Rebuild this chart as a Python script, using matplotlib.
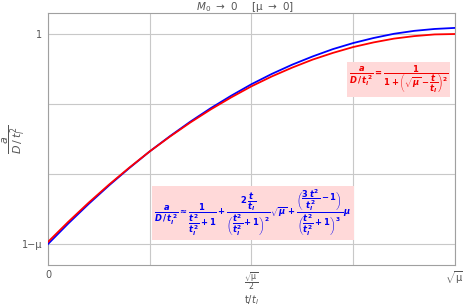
import matplotlib
matplotlib.use("Agg")
import matplotlib.pyplot as plt

plt.rcParams['mathtext.fontset'] = 'custom'
plt.rcParams['mathtext.rm'] = 'DejaVu Sans:bold'
plt.rcParams['mathtext.it'] = 'DejaVu Sans:bold:italic'
plt.rcParams['mathtext.bf'] = 'DejaVu Sans:bold'
plt.rcParams['mathtext.sf'] = 'DejaVu Sans'
plt.rcParams['mathtext.cal'] = 'DejaVu Sans:italic'

# x in units of sqrt(mu): 0 .. 1  ;  y normalised: (1-mu) -> 0, 1 -> 1
u = [0.0, 0.05, 0.1, 0.15, 0.2, 0.25, 0.3, 0.35, 0.4, 0.45, 0.5,
     0.55, 0.6, 0.65, 0.7, 0.75, 0.8, 0.85, 0.9, 0.95, 1.0]
exact = [0.010, 0.106, 0.197, 0.283, 0.364, 0.441, 0.512, 0.579, 0.641, 0.698, 0.751,
         0.798, 0.840, 0.878, 0.910, 0.938, 0.960, 0.978, 0.990, 0.998, 1.000]
approx = [0.000, 0.098, 0.191, 0.279, 0.362, 0.441, 0.514, 0.583, 0.647, 0.706, 0.761,
          0.810, 0.854, 0.893, 0.928, 0.957, 0.981, 1.001, 1.015, 1.024, 1.029]

xticks = [0, 0.5, 1]
xticklabels = ['0', r'$\mathsf{\frac{\sqrt{\mu}}{2}}$', r'$\mathsf{\sqrt{\mu}}$']
yticks = [0, 1]
yticklabels = ['1\u2212\u03bc', '1']

W, H = 463, 306
fig = plt.figure(figsize=(W/100, H/100), dpi=100)
ax = fig.add_axes([48/W, 1-265/H, (455-48)/W, (265-13)/H])

ax.plot(u, approx, color=(0, 0, 1), lw=1.3, zorder=3)
ax.plot(u, exact, color=(1, 0, 0), lw=1.3, zorder=4)

ax.set_xlim(0, 1)
ax.set_ylim(-0.1, 1.1)
ax.set_xticks(xticks)
ax.set_xticklabels(xticklabels)
ax.set_yticks(yticks)
ax.set_yticklabels(yticklabels)
ax.tick_params(length=0, labelsize=7, colors='#555555')
ax.tick_params(axis='x', pad=3.5)
ax.tick_params(axis='y', pad=4)
ax.get_xticklabels()[1].set_fontsize(8)
ax.set_xticks([0.25, 0.5, 0.75], minor=True)
ax.set_yticks([1/3, 2/3], minor=True)
ax.tick_params(which='minor', length=0)
ax.grid(True, which='both', color='#c8c8c8', lw=0.8)
for s in ax.spines.values():
    s.set_color('#a0a0a0')
    s.set_linewidth(0.8)

fig.text(245/W, 1-7/H, r'$\mathsf{\mathcal{M}_0\ \rightarrow\ 0\quad\ [\mu\ \rightarrow\ 0]}$',
         ha='center', va='center', fontsize=7.5, color='#555555')
fig.text(251/W, 1-300/H, r'$\mathsf{t/\mathcal{t}_\mathcal{l}}$', ha='center', va='center',
         fontsize=7, color='#555555')
fig.text(14/W, 1-139/H, r'$\mathsf{\dfrac{\mathcal{a}}{\mathcal{D}\,/\,\mathcal{t}_\mathcal{l}^{\,2}}}$',
         ha='center', va='center', fontsize=8, color='#555555', rotation=90)

pink = (1.0, 0.85, 0.85)
ax.text(0.861, 0.736,
        r'$\dfrac{a}{D\,/\,t_l^{\,2}} = \dfrac{1}{1+\left(\sqrt{\mu}-\dfrac{t}{t_l}\right)^2}$',
        transform=ax.transAxes, fontsize=6, color=(0.95, 0, 0), ha='center', va='center',
        bbox=dict(boxstyle='square,pad=0.25', fc=pink, ec='none'), zorder=5)

ax.text(0.504, 0.206,
        r'$\dfrac{a}{D\,/\,t_l^{\,2}} \approx \dfrac{1}{\dfrac{t^2}{t_l^2}+1} + '
        r'\dfrac{2\,\dfrac{t}{t_l}}{\left(\dfrac{t^2}{t_l^2}+1\right)^2}\,\sqrt{\mu} + '
        r'\dfrac{\left(\dfrac{3\,t^2}{t_l^2}-1\right)}{\left(\dfrac{t^2}{t_l^2}+1\right)^3}\,\mu$',
        transform=ax.transAxes, fontsize=6, color=(0, 0, 0.95), ha='center', va='center',
        bbox=dict(boxstyle='square,pad=0.25', fc=pink, ec='none'), zorder=5)

fig.savefig('out.png', dpi=100)
